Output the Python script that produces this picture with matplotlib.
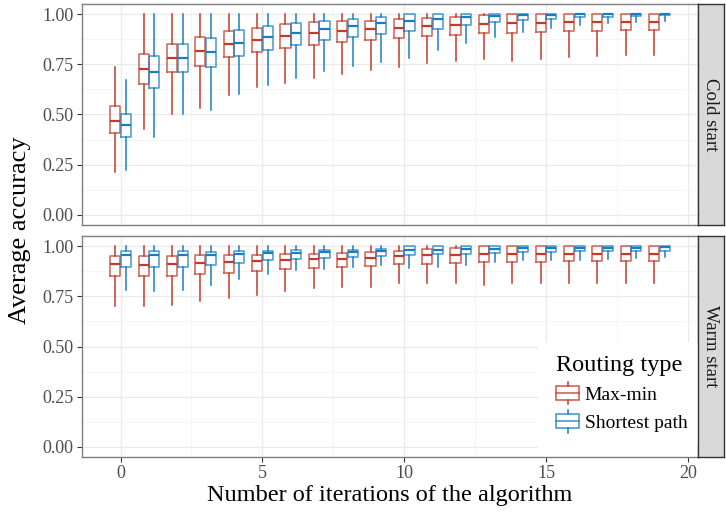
import numpy as np
import matplotlib
matplotlib.use("Agg")
import matplotlib.pyplot as plt
from matplotlib.lines import Line2D
from matplotlib.patches import Rectangle
from matplotlib.legend_handler import HandlerBase

plt.rcParams['font.family'] = ['Liberation Serif', 'DejaVu Serif']

iterations = list(range(20))
routing = ["Max-min", "Shortest path"]
facets = ["Cold start", "Warm start"]

# cold start, max-min
cold_mm_lo = [0.215, 0.43, 0.50, 0.53, 0.597, 0.635, 0.657, 0.683, 0.70, 0.722,
              0.735, 0.757, 0.767, 0.775, 0.767, 0.778, 0.787, 0.792, 0.797, 0.797]
cold_mm_q1 = [0.407, 0.65, 0.71, 0.743, 0.785, 0.812, 0.83, 0.847, 0.86, 0.872,
              0.88, 0.892, 0.898, 0.905, 0.908, 0.913, 0.917, 0.918, 0.922, 0.922]
cold_mm_med = [0.468, 0.727, 0.783, 0.818, 0.852, 0.873, 0.892, 0.907, 0.917, 0.925,
               0.932, 0.942, 0.945, 0.952, 0.953, 0.955, 0.958, 0.958, 0.962, 0.962]
cold_mm_q3 = [0.54, 0.80, 0.853, 0.888, 0.915, 0.932, 0.948, 0.958, 0.963, 0.967,
              0.977, 0.98, 0.986, 0.995, 1.0, 1.0, 1.0, 1.0, 1.0, 1.0]
cold_mm_hi = [0.737] + [1.0] * 19

# cold start, shortest path
cold_sp_lo = [0.225, 0.39, 0.503, 0.523, 0.60, 0.645, 0.682, 0.715, 0.743, 0.762,
              0.783, 0.82, 0.858, 0.887, 0.913, 0.933, 0.947, 0.957, 0.962, 0.967]
cold_sp_q1 = [0.39, 0.63, 0.71, 0.735, 0.793, 0.823, 0.848, 0.87, 0.887, 0.902,
              0.917, 0.928, 0.947, 0.958, 0.968, 0.977, 0.983, 0.987, 0.99, 0.993]
cold_sp_med = [0.448, 0.71, 0.78, 0.81, 0.858, 0.885, 0.907, 0.927, 0.942, 0.953,
               0.965, 0.975, 0.983, 0.99, 0.995, 0.997, 0.998, 1.0, 1.0, 1.0]
cold_sp_q3 = [0.503, 0.79, 0.853, 0.88, 0.922, 0.942, 0.957, 0.967, 0.975, 0.983,
              1.0, 1.0, 1.0, 1.0, 1.0, 1.0, 1.0, 1.0, 1.0, 1.0]
cold_sp_hi = [0.67] + [1.0] * 19

# warm start, max-min
warm_mm_lo = [0.703, 0.70, 0.709, 0.724, 0.741, 0.757, 0.774, 0.789, 0.794, 0.796,
              0.814, 0.816, 0.814, 0.806, 0.814, 0.814, 0.817, 0.817, 0.817, 0.817]
warm_mm_q1 = [0.849, 0.849, 0.852, 0.86, 0.867, 0.874, 0.884, 0.89, 0.897, 0.902,
              0.909, 0.912, 0.915, 0.92, 0.922, 0.922, 0.924, 0.924, 0.925, 0.927]
warm_mm_med = [0.909, 0.908, 0.909, 0.914, 0.92, 0.925, 0.93, 0.934, 0.937, 0.942,
               0.95, 0.955, 0.953, 0.96, 0.96, 0.96, 0.96, 0.96, 0.96, 0.962]
warm_mm_q3 = [0.95, 0.95, 0.95, 0.954, 0.954, 0.957, 0.96, 0.962, 0.967, 0.97,
              0.974, 0.983, 0.988, 1.0, 1.0, 1.0, 1.0, 1.0, 1.0, 1.0]
warm_mm_hi = [1.0] * 20

# warm start, shortest path
warm_sp_lo = [0.779, 0.778, 0.779, 0.804, 0.834, 0.86, 0.879, 0.887, 0.894, 0.907,
              0.892, 0.897, 0.905, 0.919, 0.929, 0.93, 0.933, 0.938, 0.941, 0.946]
warm_sp_q1 = [0.894, 0.894, 0.896, 0.904, 0.914, 0.929, 0.935, 0.942, 0.944, 0.95,
              0.953, 0.959, 0.962, 0.965, 0.972, 0.972, 0.975, 0.975, 0.975, 0.977]
warm_sp_med = [0.954, 0.953, 0.954, 0.957, 0.96, 0.967, 0.967, 0.97, 0.97, 0.975,
               0.98, 0.98, 0.985, 0.985, 0.99, 0.99, 0.992, 0.992, 0.992, 0.993]
warm_sp_q3 = [0.973, 0.973, 0.973, 0.97, 0.975, 0.977, 0.98, 0.982, 0.982, 0.985,
              1.0, 1.0, 1.0, 1.0, 1.0, 1.0, 1.0, 1.0, 1.0, 1.0]
warm_sp_hi = [1.0] * 20

colors = {"Max-min": "#C23B2A", "Shortest path": "#1B7DC1"}

data = {
    ("Cold start", "Max-min"): (cold_mm_lo, cold_mm_q1, cold_mm_med, cold_mm_q3, cold_mm_hi),
    ("Cold start", "Shortest path"): (cold_sp_lo, cold_sp_q1, cold_sp_med, cold_sp_q3, cold_sp_hi),
    ("Warm start", "Max-min"): (warm_mm_lo, warm_mm_q1, warm_mm_med, warm_mm_q3, warm_mm_hi),
    ("Warm start", "Shortest path"): (warm_sp_lo, warm_sp_q1, warm_sp_med, warm_sp_q3, warm_sp_hi),
}


class BoxHandler(HandlerBase):
    # small boxplot glyph for the legend keys
    def create_artists(self, legend, orig_handle, xdescent, ydescent,
                       width, height, fontsize, trans):
        c = orig_handle.get_color()
        x0 = -xdescent
        y0 = -ydescent
        cx = x0 + width / 2
        arts = [
            Rectangle((x0, y0 + height * 0.1), width, height * 0.8, fill=False,
                      edgecolor=c, lw=1.1, alpha=0.85, transform=trans),
            Line2D([x0, x0 + width], [y0 + height * 0.5] * 2, color=c, lw=1.1,
                   alpha=0.85, transform=trans),
            Line2D([cx, cx], [y0 + height * 0.9, y0 + height * 1.15], color=c,
                   lw=1.1, transform=trans),
            Line2D([cx, cx], [y0 + height * 0.1, y0 - height * 0.15], color=c,
                   lw=1.1, transform=trans),
        ]
        return arts


W, H = 726, 512
fig = plt.figure(figsize=(W / 100, H / 100), dpi=100)

left, right = 82, 698
panels = [(4, 225), (236, 457)]
axes = []
for (top, bot), facet in zip(panels, facets):
    ax = fig.add_axes([left / W, 1 - bot / H, (right - left) / W, (bot - top) / H])
    axes.append(ax)
    sx = fig.add_axes([right / W, 1 - bot / H, 26 / W, (bot - top) / H])
    sx.set_facecolor("#D9D9D9")
    sx.set_xticks([])
    sx.set_yticks([])
    for s in sx.spines.values():
        s.set_color("#333333")
        s.set_linewidth(1.0)
    sx.text(0.5, 0.5, facet, rotation=-90, ha="center", va="center",
            fontsize=13.5, color="#1A1A1A", transform=sx.transAxes)

    for j, r in enumerate(routing):
        lo, q1, med, q3, hi = data[(facet, r)]
        stats = [dict(whislo=a, q1=b, med=m, q3=d, whishi=e, fliers=[])
                 for a, b, m, d, e in zip(lo, q1, med, q3, hi)]
        pos = [i + (j - 0.5) * 0.375 for i in iterations]
        c = colors[r]
        ax.bxp(stats, positions=pos, widths=0.36, showcaps=False,
               showfliers=False, manage_ticks=False,
               boxprops=dict(color=c, lw=1.1, alpha=0.8),
               medianprops=dict(color=c, lw=1.6),
               whiskerprops=dict(color=c, lw=1.1))

    ax.set_xlim(-1.36, 20.36)
    ax.set_ylim(-0.05, 1.05)
    ax.set_yticks([0, 0.25, 0.5, 0.75, 1.0])
    ax.set_yticklabels(["0.00", "0.25", "0.50", "0.75", "1.00"])
    ax.set_yticks([0.125, 0.375, 0.625, 0.875], minor=True)
    ax.set_xticks([0, 5, 10, 15, 20])
    ax.set_xticks([2.5, 7.5, 12.5, 17.5], minor=True)
    ax.grid(True, which="major", color="#EBEBEB", lw=1.0, zorder=0)
    ax.grid(True, which="minor", color="#F4F4F4", lw=0.6, zorder=0)
    ax.set_axisbelow(True)
    ax.tick_params(which="minor", length=0)
    ax.tick_params(which="major", length=3.5, width=0.8, color="#333333",
                   labelcolor="#4D4D4D", labelsize=13, pad=2.5)
    for s in ax.spines.values():
        s.set_color("#7F7F7F")
        s.set_linewidth(1.0)

axes[0].tick_params(axis="x", which="both", bottom=False, labelbottom=False)

axes[1].set_xlabel("Number of iterations of the algorithm", fontsize=17.5, labelpad=2)
fig.text(0.028, (1 - 4 / H + 1 - 457 / H) / 2, "Average accuracy", rotation=90,
         ha="center", va="center", fontsize=19)

# white background under the legend, down to the panel bottom
axes[1].add_patch(Rectangle((0.74, 0.0), 0.26, 0.52, transform=axes[1].transAxes,
                            facecolor="white", edgecolor="none", zorder=1.5))

handles = [Line2D([], [], color=colors[r]) for r in routing]
leg = axes[1].legend(handles, routing, handler_map={Line2D: BoxHandler()},
                     title="Routing type", loc="lower right",
                     bbox_to_anchor=(1.0, 0.065), borderaxespad=0.0,
                     frameon=True, fancybox=False, edgecolor="white",
                     framealpha=1.0, fontsize=14, title_fontsize=17.5,
                     alignment="left", handlelength=1.15, handleheight=1.0,
                     handletextpad=0.3, labelspacing=0.45, borderpad=0.55)

fig.savefig("out.png", dpi=100)
